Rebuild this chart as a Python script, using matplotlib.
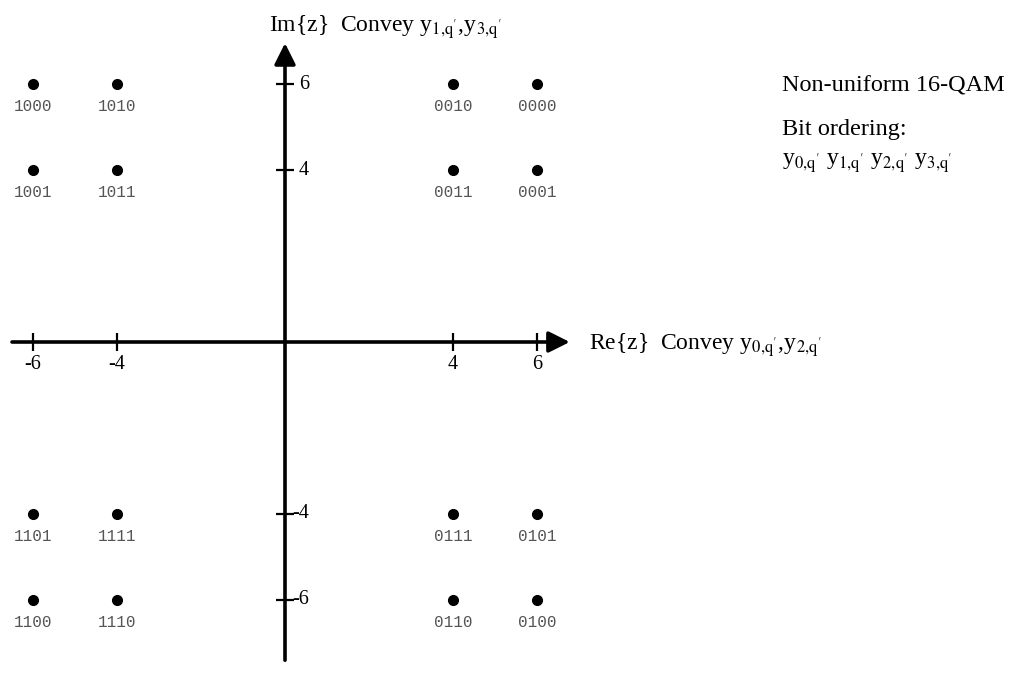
import matplotlib.pyplot as plt

plt.rcParams['font.family'] = ['Liberation Serif', 'DejaVu Serif']
plt.rcParams['mathtext.fontset'] = 'stix'

# constellation points (Re, Im) and their bit labels
re_vals = [-6, -4, 4, 6, -6, -4, 4, 6, -6, -4, 4, 6, -6, -4, 4, 6]
im_vals = [6, 6, 6, 6, 4, 4, 4, 4, -4, -4, -4, -4, -6, -6, -6, -6]
bit_labels = ["1000", "1010", "0010", "0000",
              "1001", "1011", "0011", "0001",
              "1101", "1111", "0111", "0101",
              "1100", "1110", "0110", "0100"]

x_ticks = [-6, -4, 4, 6]
y_ticks = [6, 4, -4, -6]

fig = plt.figure(figsize=(10.19, 6.75), dpi=100)
ax = fig.add_axes([0, 0, 1, 1])
ax.set_xlim(-285 / 42, (1019 - 285) / 42)
ax.set_ylim(-(675 - 342) / 43, 342 / 43)
ax.axis('off')

# axes with arrows
ax.annotate('', xy=(6.78, 0), xytext=(-6.5, 0),
            arrowprops=dict(arrowstyle='-|>', lw=2.6, color='k', mutation_scale=32,
                            shrinkA=0, shrinkB=0))
ax.annotate('', xy=(0, 6.95), xytext=(0, -7.4),
            arrowprops=dict(arrowstyle='-|>', lw=2.6, color='k', mutation_scale=32,
                            shrinkA=0, shrinkB=0))

# ticks
ax.plot(x_ticks, [0] * len(x_ticks), ls='none', marker='|', ms=13, mew=1.6, color='k')
ax.plot([0] * len(y_ticks), y_ticks, ls='none', marker='_', ms=13, mew=1.6, color='k')
for x in x_ticks:
    ax.annotate(str(x), (x, 0), xytext=(0, -16.5), textcoords='offset points',
                ha='center', va='center', fontsize=14.5)
for y in y_ticks:
    ax.annotate(str(y), (0, y), xytext=(5 if y < 0 else 10, 0), textcoords='offset points',
                ha='left', va='center', fontsize=14.5)

# constellation
ax.plot(re_vals, im_vals, ls='none', marker='o', ms=7, color='k')
for x, y, lab in zip(re_vals, im_vals, bit_labels):
    ax.annotate(lab, (x, y), xytext=(0, -16), textcoords='offset points',
                ha='center', va='center', fontsize=11.5, color='#555',
                family='Liberation Mono')

# axis labels
ax.text(-0.37, 7.33, r"Im{z}  Convey y$_{\mathrm{1{,}q'}}$,y$_{\mathrm{3{,}q'}}$",
        ha='left', va='center', fontsize=17)
ax.text(7.23, -0.08, r"Re{z}  Convey y$_{\mathrm{0{,}q'}}$,y$_{\mathrm{2{,}q'}}$",
        ha='left', va='center', fontsize=17)

# side notes
ax.text(11.83, 5.95, "Non-uniform 16-QAM", ha='left', va='center', fontsize=17.5)
ax.text(11.83, 4.95, "Bit ordering:", ha='left', va='center', fontsize=17.5)
ax.text(11.83, 4.15,
        r"y$_{\mathrm{0{,}q'}}$ y$_{\mathrm{1{,}q'}}$ y$_{\mathrm{2{,}q'}}$ y$_{\mathrm{3{,}q'}}$",
        ha='left', va='center', fontsize=17)

plt.savefig("out.png", dpi=100)
